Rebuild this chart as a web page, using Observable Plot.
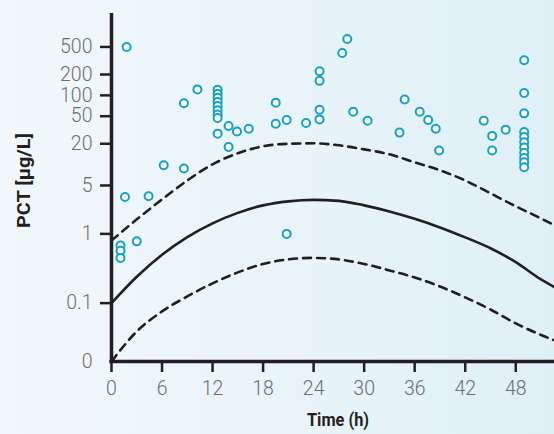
<!DOCTYPE html>
<html><head><meta charset="utf-8">
<script src="https://cdn.jsdelivr.net/npm/d3@7"></script>
<script src="https://cdn.jsdelivr.net/npm/@observablehq/plot@0.6"></script>
<style>
html,body{margin:0;padding:0;}
body{width:554px;height:434px;overflow:hidden;background:linear-gradient(to right,#f1f8fb 0%,#eaf5f9 45%,#dff0f6 100%);}
#chart svg{display:block;}
</style></head><body><div id="chart"></div>
<script>
// Scatter: time (h) and PCT (µg/L)
const pointTime = [1.07,1.07,1.07, 1.8,1.6,3.0,4.4,6.2,8.6,8.6,10.2,
  12.6,12.6,12.6,12.6,12.6,12.6,12.6,12.6,12.6,
  13.9,14.9,13.9,16.3,19.5,19.5,20.8,20.8,23.1,
  24.7,24.7,24.7,24.7,27.4,28.0,28.7,30.4,
  34.8,34.2,36.6,37.6,38.5,38.9,44.2,45.2,45.2,46.8,
  49.0,49.0,49.0,49.0,49.0,49.0,49.0,49.0,49.0,49.0,49.0];
const pointPCT = [0.68,0.57,0.45, 500,3.4,0.78,3.5,9.8,8.8,77,122,
  120,105,92,80,70,61,53,47,28,
  36,30,18,33,78,39,44,1.0,40,
  223,162,62,45,410,650,58,43,
  87,29,58,44,33,16,43,26,16,32,
  321,108,55,29.6,25,21,17.6,14.8,12.5,10.8,9.2];

// Reference curves
const curveTime  = [0,3,6,9,12,15,18,21,24,27,30,33,36,39,42,45,48,51,52.6];
const medianPCT  = [0.1,0.24,0.5,0.9,1.42,2.01,2.58,2.95,3.1,3.0,2.58,2.11,1.65,1.24,0.89,0.62,0.39,0.22,0.17];
const upperPCT   = [0.8,1.62,3.15,5.9,10.1,14.6,18.4,20,20.3,19,16.6,14.1,10.8,8.3,5.9,3.85,2.5,1.67,1.33];
const lowerPCT   = [0,0.039,0.076,0.125,0.193,0.278,0.368,0.428,0.45,0.428,0.368,0.297,0.235,0.174,0.121,0.081,0.051,0.0347,0.029];

const yTicks = [0.1,1,5,20,50,100,200,500];
const xTicks = [0,6,12,18,24,30,36,42,48];
const ZERO = 0.01437; // position of the "0" break on the log axis

const ink = "#231f20";
const tickColor = "#6d6e71";
const dotColor = "#12a2c7";
const tickFont = "Roboto, 'Liberation Sans', sans-serif";
const titleFont = "Roboto, 'Liberation Sans', sans-serif";

const points = pointTime.map((t, i) => ({t, v: pointPCT[i]}));
const curves = curveTime.map((t, i) => ({t, m: medianPCT[i], u: upperPCT[i], l: lowerPCT[i]}));
const fy = v => Math.max(v, ZERO);

const chart = Plot.plot({
  width: 554, height: 434,
  marginTop: 13, marginRight: 0, marginBottom: 73, marginLeft: 111,
  style: {background: "transparent", fontFamily: tickFont, fontWeight: 300, overflow: "visible"},
  x: {domain: [0, 52.6]},
  y: {type: "log", domain: [ZERO, 1520]},
  marks: [
    Plot.axisY({ticks: yTicks, tickSize: 11, tickFormat: () => "", stroke: ink, strokeWidth: 2.5, label: null}),
    Plot.text([ZERO, ...yTicks], {y: d => d, text: d => d === ZERO ? "0" : String(d),
      frameAnchor: "left", textAnchor: "end", dx: -19, fontSize: 19.5, fill: tickColor}),
    Plot.axisX({ticks: xTicks, tickSize: 11, tickPadding: 9, tickFormat: d => String(d),
      fontSize: 19.5, fill: tickColor, stroke: ink, strokeWidth: 2.5, label: null}),
    Plot.line(curves, {x: "t", y: d => fy(d.u), stroke: ink, strokeWidth: 2.6, strokeDasharray: "8,6", curve: "monotone-x"}),
    Plot.line(curves, {x: "t", y: d => fy(d.m), stroke: ink, strokeWidth: 2.6, curve: "monotone-x"}),
    Plot.line(curves, {x: "t", y: d => fy(d.l), stroke: ink, strokeWidth: 2.6, strokeDasharray: "8,6", curve: "monotone-x"}),
    Plot.ruleX([0], {stroke: ink, strokeWidth: 3.5}),
    Plot.ruleY([ZERO], {stroke: ink, strokeWidth: 3.5, strokeLinecap: "square"}),
    Plot.dot(points, {x: "t", y: "v", r: 4, stroke: dotColor, strokeWidth: 2, fill: "white"}),
    Plot.text(["Time (h)"], {frameAnchor: "bottom", textAnchor: "middle", dx: 5, dy: 64, fontSize: 19, fontWeight: "bold",
      fontFamily: titleFont, fill: ink, className: "ttl-x"}),
    Plot.text(["PCT [µg/L]"], {frameAnchor: "left", textAnchor: "middle", rotate: -90, dx: -88, dy: -7, fontSize: 19,
      fontWeight: "bold", fontFamily: titleFont, fill: ink, className: "ttl-y"})
  ]
});
// condensed look of the axis titles
chart.querySelectorAll(".ttl-x text").forEach(t => { t.setAttribute("textLength", 62); t.setAttribute("lengthAdjust", "spacingAndGlyphs"); });
chart.querySelectorAll(".ttl-y text").forEach(t => { t.setAttribute("textLength", 95); t.setAttribute("lengthAdjust", "spacingAndGlyphs"); });
document.getElementById("chart").append(chart);
</script></body></html>
